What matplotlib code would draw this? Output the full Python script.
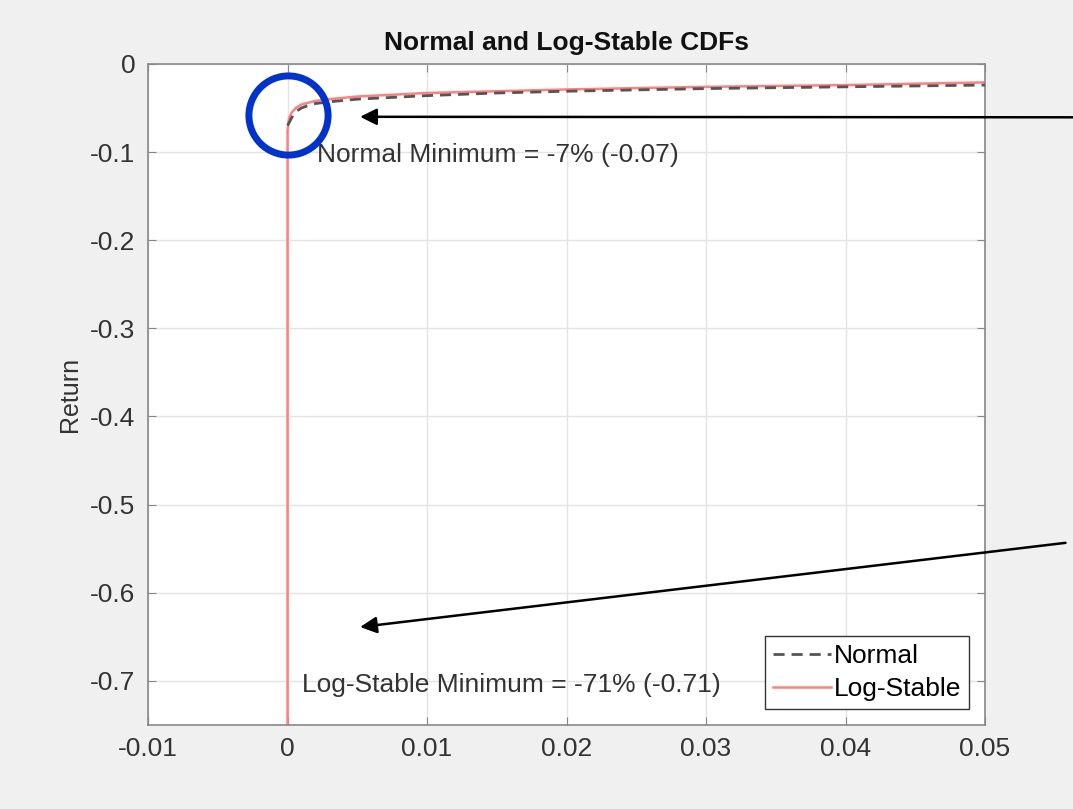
import matplotlib.pyplot as plt
import numpy as np

plt.rcParams['font.family'] = ['Liberation Sans', 'DejaVu Sans']

# probability levels (x) and returns (y)
p_normal = np.array([0.0, 0.0002, 0.0004, 0.0007, 0.001, 0.0015, 0.002, 0.003, 0.005, 0.0075,
                     0.01, 0.015, 0.02, 0.03, 0.04, 0.05])
r_normal = np.array([-0.07, -0.064, -0.058, -0.053, -0.050, -0.047, -0.045, -0.043, -0.040, -0.038,
                     -0.036, -0.033, -0.031, -0.028, -0.026, -0.024])

p_stable = np.array([0.0, 0.0, 0.0001, 0.0003, 0.0006, 0.001, 0.0015, 0.002, 0.003,
                     0.005, 0.0075, 0.01, 0.015, 0.02, 0.03, 0.04, 0.05])
r_stable = np.array([-0.75, -0.075, -0.062, -0.055, -0.050, -0.046, -0.044, -0.042, -0.040,
                     -0.037, -0.035, -0.033, -0.031, -0.029, -0.026, -0.024, -0.021])

xticks = [-0.01, 0, 0.01, 0.02, 0.03, 0.04, 0.05]
xtick_labels = ['-0.01', '0', '0.01', '0.02', '0.03', '0.04', '0.05']
yticks = [0, -0.1, -0.2, -0.3, -0.4, -0.5, -0.6, -0.7]
ytick_labels = ['0', '-0.1', '-0.2', '-0.3', '-0.4', '-0.5', '-0.6', '-0.7']

normal_min = -0.07
stable_min = -0.71

fig = plt.figure(figsize=(10.73, 8.09), dpi=100, facecolor='#f0f0f0')
ax = fig.add_axes([0.138, 0.104, 0.780, 0.817])
ax.set_facecolor('white')

ax.plot(p_normal, r_normal, linestyle=(0, (4, 2.5)), color='#555555', linewidth=2, label='Normal', zorder=3)
ax.plot(p_stable, r_stable, color='#ff8080', linewidth=1.8, label='Log-Stable', zorder=2)

ax.set_xlim(-0.01, 0.05)
ax.set_ylim(-0.75, 0)
ax.set_xticks(xticks)
ax.set_xticklabels(xtick_labels)
ax.set_yticks(yticks)
ax.set_yticklabels(ytick_labels)
ax.tick_params(direction='in', top=True, right=True, labelsize=19, colors='#888888',
               labelcolor='#333333', length=6, pad=9)
for s in ax.spines.values():
    s.set_color('#888888')
    s.set_linewidth(1.2)
ax.grid(True, color='#e3e3e3', linewidth=1)
ax.set_axisbelow(True)

ax.set_title('Normal and Log-Stable CDFs', fontsize=19, fontweight='bold', color='#111111', pad=10)
ax.set_ylabel('Return', fontsize=18, color='#333333', labelpad=6)

leg = ax.legend(loc='lower right', fontsize=19, handlelength=2.2, handletextpad=0.1,
                fancybox=False, framealpha=1, borderpad=0.3, labelspacing=0.35,
                borderaxespad=0.6)
leg.get_frame().set_edgecolor('#333333')
leg.get_frame().set_linewidth(1)

ax.text(0.0021, -0.103, f'Normal Minimum = -7% ({normal_min:.2f})', fontsize=19,
        color='#333333', va='center', ha='left')
ax.text(0.00105, -0.705, f'Log-Stable Minimum = -71% ({stable_min:.2f})', fontsize=19,
        color='#333333', va='center', ha='left')

# blue circle around the corner of the curves
ax.plot([0], [-0.058], marker='o', markersize=57, markerfacecolor='none',
        markeredgecolor='#0033cc', markeredgewidth=5, clip_on=False, zorder=5)

# arrows coming in from the right edge
ax.annotate('', xy=(0.0052, -0.060), xycoords='data', xytext=(1.0, 0.855),
            textcoords='figure fraction',
            arrowprops=dict(arrowstyle='-|>', color='black', lw=1.8, mutation_scale=25,
                            shrinkA=0, shrinkB=0), annotation_clip=False)
ax.annotate('', xy=(0.0052, -0.639), xycoords='data', xytext=(0.993, 0.329),
            textcoords='figure fraction',
            arrowprops=dict(arrowstyle='-|>', color='black', lw=1.8, mutation_scale=25,
                            shrinkA=0, shrinkB=0), annotation_clip=False)

plt.savefig('out.png', dpi=100, facecolor=fig.get_facecolor())
